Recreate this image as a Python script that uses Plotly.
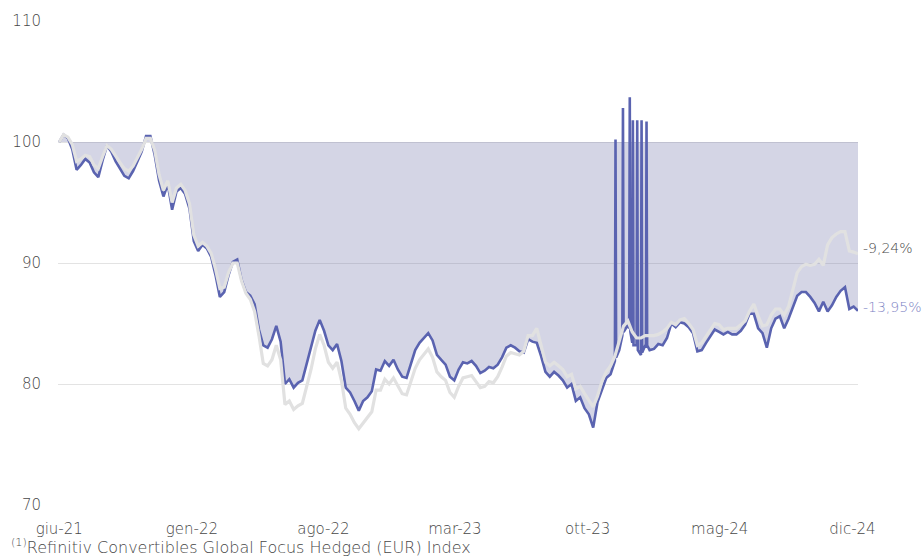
import pandas as pd
import plotly.graph_objects as go

# Weekly observations (rebased to 100), starting 2021-06-01
fund = [
    100.0, 100.6, 100.3, 99.4, 97.7, 98.1, 98.6, 98.3, 97.5, 97.1,
    98.5, 99.7, 99.2, 98.4, 97.8, 97.2, 97.0, 97.6, 98.4, 99.2,
    100.5, 100.5, 98.9, 96.8, 95.5, 96.5, 94.4, 95.9, 96.2, 95.7,
    94.5, 91.8, 91.0, 91.5, 91.2, 90.5, 89.0, 87.2, 87.6, 89.0,
    90.1, 90.3, 88.6, 87.6, 87.3, 86.6, 84.5, 83.2, 83.0, 83.7,
    84.8, 83.5, 80.0, 80.4, 79.7, 80.1, 80.3, 81.6, 83.0, 84.4,
    85.3, 84.4, 83.2, 82.8, 83.3, 81.9, 79.7, 79.3, 78.6, 77.8,
    78.6, 78.9, 79.4, 81.2, 81.1, 81.9, 81.5, 82.0, 81.2, 80.6,
    80.5, 81.7, 82.8, 83.4, 83.8, 84.2, 83.6, 82.4, 82.0, 81.6,
    80.6, 80.3, 81.2, 81.8, 81.7, 81.9, 81.5, 80.9, 81.1, 81.4,
    81.3, 81.6, 82.2, 83.0, 83.2, 83.0, 82.7, 82.6, 83.7, 83.5,
    83.4, 82.3, 81.0, 80.6, 81.0, 80.7, 80.3, 79.7, 80.0, 78.6,
    78.9, 78.0, 77.5, 76.4, 78.5, 79.6, 80.5, 80.8, 81.9, 82.8,
    84.3, 84.9, 83.4, 83.2, 82.4, 83.2, 82.8, 82.9, 83.3, 83.2,
    83.8, 85.0, 84.7, 85.1, 85.0, 84.7, 84.2, 82.7, 82.8, 83.4,
    84.0, 84.5, 84.3, 84.1, 84.3, 84.1, 84.1, 84.4, 84.9, 85.8,
    85.8, 84.6, 84.2, 83.0, 84.6, 85.4, 85.6, 84.6, 85.4, 86.3,
    87.3, 87.6, 87.6, 87.2, 86.7, 86.0, 86.8, 86.0, 86.5, 87.2,
    87.7, 88.0, 86.2, 86.4, 86.05,
]

index = [
    100.0, 100.6, 100.4, 99.8, 98.4, 98.6, 98.9, 98.8, 98.1, 97.8,
    98.8, 99.7, 99.4, 98.8, 98.3, 97.8, 97.6, 98.0, 98.7, 99.4,
    100.3, 100.3, 99.3, 97.3, 96.0, 96.8, 95.0, 96.2, 96.5, 96.0,
    94.9, 92.3, 91.4, 91.7, 91.4, 90.8, 89.5, 87.9, 88.0, 89.2,
    90.0, 90.0, 88.5, 87.5, 87.0, 86.0, 84.0, 81.7, 81.5, 82.0,
    83.2, 82.0, 78.3, 78.6, 77.9, 78.2, 78.4, 79.8, 81.2, 82.9,
    84.1, 83.2, 81.8, 81.3, 81.8, 80.3, 78.0, 77.5, 76.8, 76.3,
    76.8, 77.2, 77.7, 79.5, 79.5, 80.4, 80.0, 80.5, 79.8, 79.2,
    79.1, 80.2, 81.3, 82.0, 82.5, 82.9, 82.2, 81.0, 80.6, 80.3,
    79.3, 78.9, 79.8, 80.5, 80.6, 80.7, 80.2, 79.7, 79.8, 80.2,
    80.1, 80.6, 81.4, 82.3, 82.6, 82.5, 82.4, 82.7, 84.0, 84.0,
    84.6, 83.2, 81.8, 81.5, 81.8, 81.5, 81.2, 80.6, 80.8, 79.6,
    79.8, 79.2, 78.6, 78.1, 79.0, 80.2, 81.0, 81.5, 82.3, 83.5,
    84.8, 85.2, 84.3, 83.8, 83.8, 84.0, 84.0, 84.0, 84.1, 84.3,
    84.6, 85.1, 84.9, 85.3, 85.4, 85.0, 84.5, 83.2, 83.4, 83.9,
    84.5, 85.0, 84.9, 84.5, 84.6, 84.6, 84.6, 84.9, 85.2, 86.0,
    86.6, 85.6, 84.8, 84.9, 85.7, 86.2, 86.2, 85.7, 86.4, 87.8,
    89.2, 89.7, 89.9, 89.8, 89.9, 90.3, 89.8, 91.5, 92.1, 92.4,
    92.6, 92.6, 91.0, 90.9, 90.76,
]

# Isolated one-day price spikes of the fund series
spike_dates = ["2023-11-15", "2023-11-27", "2023-12-08", "2023-12-13",
               "2023-12-20", "2023-12-27", "2024-01-04"]
spike_values = [100.2, 102.8, 103.7, 101.8, 101.8, 101.8, 101.7]
spike_prev = [81.9, 84.0, 84.6, 83.3, 83.0, 82.5, 83.0]
spike_next = [82.2, 84.3, 84.3, 83.2, 82.8, 82.6, 83.2]

tick_dates = ["2021-06-01", "2022-01-01", "2022-08-01", "2023-03-01",
              "2023-10-01", "2024-05-01", "2024-12-01"]
tick_labels = ["giu-21", "gen-22", "ago-22", "mar-23", "ott-23", "mag-24", "dic-24"]

label_fund = "-13,95%"
label_index = "-9,24%"
footnote = "<sup>(1)</sup>Refinitiv Convertibles Global Focus Hedged (EUR) Index"

# ---- build series ----
dates = pd.date_range("2021-06-01", periods=len(fund), freq="7D")
s_fund = pd.Series(fund, index=dates)
sd = pd.to_datetime(spike_dates)
day = pd.Timedelta(days=1)
neighbours = pd.concat([pd.Series(spike_prev, index=sd - day),
                        pd.Series(spike_next, index=sd + day)])
s_fund = s_fund.combine_first(neighbours)
s_fund = pd.concat([s_fund, pd.Series(spike_values, index=sd)]).sort_index()
s_fund = s_fund[~s_fund.index.duplicated(keep="first")]

s_index = pd.Series(index, index=dates)

BLUE = "#5a63b0"
GREY = "#e1e1e1"
TXT = "#474747"
FONT = "DejaVu Sans"
FS = 15

fig = go.Figure()
fig.add_trace(go.Scatter(x=[dates[0], dates[-1]], y=[100, 100], mode="lines",
                         line=dict(width=0, color="rgba(0,0,0,0)"),
                         hoverinfo="skip", showlegend=False))
fig.add_trace(go.Scatter(x=s_fund.index, y=s_fund.values, mode="lines",
                         line=dict(color=BLUE, width=2.6),
                         fill="tonexty", fillcolor="rgba(100,105,160,0.28)",
                         name="Fondo", showlegend=False))
fig.add_trace(go.Scatter(x=s_index.index, y=s_index.values, mode="lines",
                         line=dict(color=GREY, width=3.2),
                         name="Indice", showlegend=False))

fig.add_annotation(xref="paper", yref="y", x=1.0, xshift=3, xanchor="left",
                   y=index[-1] + 0.45, text=label_index, showarrow=False,
                   font=dict(family=FONT, size=14, color=TXT, weight=300))
fig.add_annotation(xref="paper", yref="y", x=1.0, xshift=3, xanchor="left",
                   y=fund[-1] + 0.3, text=label_fund, showarrow=False,
                   font=dict(family=FONT, size=14, color="#7d83c4", weight=300))
fig.add_annotation(xref="paper", yref="paper", x=0, xshift=-49, xanchor="left",
                   y=-0.086, yanchor="middle", text=footnote, showarrow=False,
                   font=dict(family=FONT, size=16, color=TXT, weight=300))

fig.update_layout(
    width=922, height=557,
    margin=dict(l=53, r=64, t=19, b=52),
    plot_bgcolor="white", paper_bgcolor="white",
    font=dict(family=FONT, size=FS, color=TXT, weight=300),
    xaxis=dict(type="date", range=["2021-05-30", "2024-12-10"],
               tickvals=pd.to_datetime(tick_dates), ticktext=tick_labels,
               showgrid=False, zeroline=False, showline=False,
               ticks="outside", ticklen=10, tickcolor="rgba(0,0,0,0)",
               tickfont=dict(family=FONT, size=FS, color=TXT, weight=300)),
    yaxis=dict(range=[70, 110], tickvals=[70, 80, 90, 100, 110],
               showgrid=True, gridcolor="#e3e3e3", gridwidth=1,
               zeroline=False, showline=False,
               ticks="outside", ticklen=13, tickcolor="rgba(0,0,0,0)",
               tickfont=dict(family=FONT, size=FS, color=TXT, weight=300)),
)

fig.write_html("out.html", config={"displayModeBar": False},
               post_script="document.body.style.margin='0';")
